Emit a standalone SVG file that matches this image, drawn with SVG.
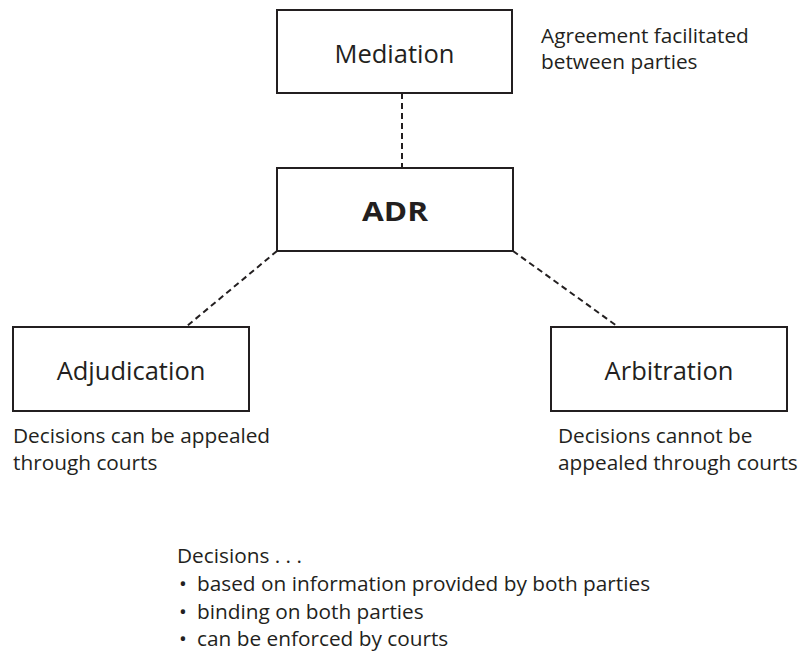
<svg xmlns="http://www.w3.org/2000/svg" width="799" height="657" viewBox="0 0 799 657">
<style>
.box{fill:#fff;stroke:#231f20;stroke-width:2}
.lbl{font-family:"Open Sans","Liberation Sans",sans-serif;font-size:25.5px;fill:#231f20;text-anchor:middle}
.bold{font-weight:bold;font-size:26px}
.note{font-family:"Open Sans","Liberation Sans",sans-serif;font-size:20.8px;fill:#231f20}
.dash{stroke:#231f20;stroke-width:2;stroke-dasharray:6 4;fill:none}
</style>
<rect width="799" height="657" fill="#fff"/>
<g id="connectors">
<line class="dash" x1="402" y1="93" x2="402" y2="168"/>
<line class="dash" x1="277" y1="251" x2="187" y2="326"/>
<line class="dash" x1="513" y1="251" x2="617" y2="326"/>
</g>
<g id="mediation">
<rect class="box" x="277" y="10" width="235" height="83"/>
<text class="lbl" x="394.5" y="63">Mediation</text>
</g>
<g id="adr">
<rect class="box" x="277" y="168" width="236" height="83"/>
<text class="lbl bold" x="395" y="221" textLength="66" lengthAdjust="spacingAndGlyphs">ADR</text>
</g>
<g id="adjudication">
<rect class="box" x="13" y="327" width="236" height="84"/>
<text class="lbl" x="131" y="380">Adjudication</text>
</g>
<g id="arbitration">
<rect class="box" x="551" y="327" width="236" height="84"/>
<text class="lbl" x="669" y="380">Arbitration</text>
</g>
<g id="notes">
<text class="note" x="541" y="43">Agreement facilitated</text>
<text class="note" x="541" y="69">between parties</text>
<text class="note" x="13" y="443">Decisions can be appealed</text>
<text class="note" x="13" y="470">through courts</text>
<text class="note" x="558" y="443">Decisions cannot be</text>
<text class="note" x="558" y="470">appealed through courts</text>
<text class="note" x="177" y="563">Decisions . . .</text>
<text class="note" x="179" y="591">•<tspan x="197">based on information provided by both parties</tspan></text>
<text class="note" x="179" y="619">•<tspan x="197">binding on both parties</tspan></text>
<text class="note" x="179" y="646">•<tspan x="197">can be enforced by courts</tspan></text>
</g>
</svg>
